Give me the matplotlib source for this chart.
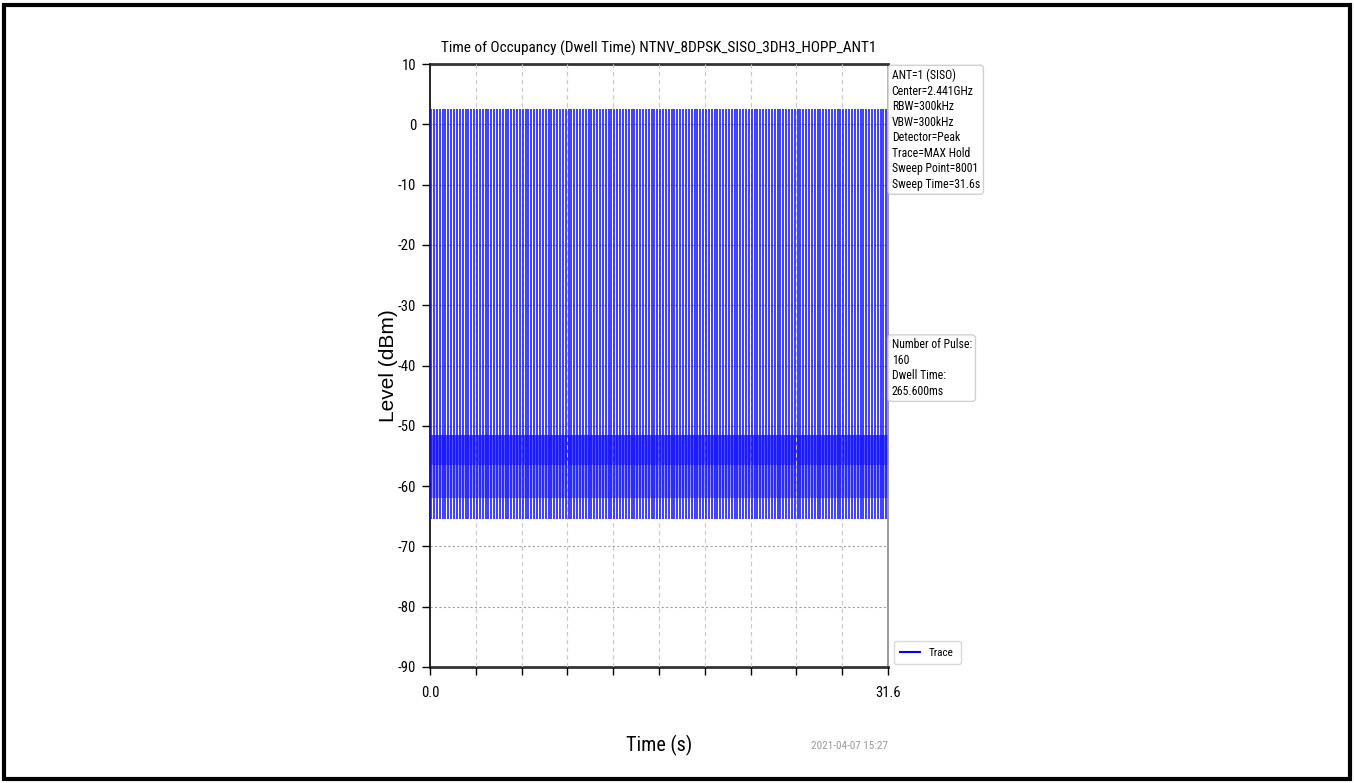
import numpy as np
import matplotlib
matplotlib.use("Agg")
import matplotlib.pyplot as plt
from matplotlib.patches import Rectangle
from matplotlib import font_manager as fm

# ---- data ----
title = "Time of Occupancy (Dwell Time) NTNV_8DPSK_SISO_3DH3_HOPP_ANT1"
sweep_time = 31.6          # s
n_pulses = 160
pulse_first = 0.08         # s, first hop
pulse_period = 0.1975      # s, spacing of hops
pulse_peak = 2.5           # dBm
noise_top = -51.5          # dBm
noise_mid_top = -56.5
noise_mid_bottom = -62.0
noise_bottom = -65.5
y_ticks = [10, 0, -10, -20, -30, -40, -50, -60, -70, -80, -90]
x_tick_count = 11
x_tick_labels = ["0.0", "", "", "", "", "", "", "", "", "", "31.6"]
info_lines = ["ANT=1 (SISO)", "Center=2.441GHz", "RBW=300kHz", "VBW=300kHz",
              "Detector=Peak", "Trace=MAX Hold", "Sweep Point=8001", "Sweep Time=31.6s"]
result_lines = ["Number of Pulse:", "160", "Dwell Time:", "265.600ms"]
timestamp = "2021-04-07 15:27"

pulse_times = pulse_first + pulse_period * np.arange(n_pulses)

installed = {f.name for f in fm.fontManager.ttflist}
narrow_pref = [n for n in ["Liberation Sans Narrow", "Arial Narrow", "Roboto Condensed",
                           "Open Sans Condensed", "Liberation Sans"] if n in installed]
narrow = narrow_pref[:1] + ["DejaVu Sans"]
is_narrow = narrow[0] != "Liberation Sans"
k = 1.0 if is_narrow else 0.85
plt.rcParams["font.family"] = narrow
plt.rcParams["axes.unicode_minus"] = False

W, H = 1354, 783
fig = plt.figure(figsize=(W / 100, H / 100), dpi=100)
fig.patches.append(Rectangle((4 / W, 4 / H), (W - 8) / W, (H - 9) / H,
                             transform=fig.transFigure, fill=False,
                             edgecolor="black", linewidth=3))

ax = fig.add_axes([430 / W, 1 - 667 / H, 458 / W, 603 / H])

# noise floor band
ax.fill_between([0, sweep_time], noise_mid_bottom, noise_top, color="#2a2af5", alpha=0.85, lw=0, zorder=2)
ax.fill_between([0, sweep_time], noise_mid_bottom, noise_mid_top, color="#8f8ff5", lw=0, zorder=2.1)
# pulses
ax.vlines(pulse_times, noise_bottom, pulse_peak, color="#1010ff", lw=1.25, alpha=0.9, zorder=3)
ax.plot([], [], color="blue", lw=1.5, label="Trace")

ax.set_xlim(0, sweep_time)
ax.set_ylim(-90, 10)
ax.set_yticks(y_ticks)
ax.set_xticks(np.linspace(0, sweep_time, x_tick_count))
ax.set_xticklabels(x_tick_labels)
ax.tick_params(axis="both", direction="out", length=6, width=1, labelsize=10.5 * k, color="black")
ax.tick_params(axis="x", pad=8)
ax.tick_params(axis="y", pad=4)

ax.xaxis.grid(True, linestyle=(0, (4, 3)), color="#c8c8c8", lw=0.8, zorder=4)
ax.yaxis.grid(True, linestyle=(0, (2, 2)), color="#a0a0a0", lw=0.8, zorder=4)
ax.set_axisbelow(False)
xg = ax.get_xgridlines()
xg[0].set_visible(False)
xg[-1].set_visible(False)
yg = ax.get_ygridlines()
yg[0].set_visible(False)
yg[-1].set_visible(False)

for s in ["top", "bottom"]:
    ax.spines[s].set_linewidth(2)
    ax.spines[s].set_color("#333333")
ax.spines["left"].set_linewidth(1.2)
ax.spines["left"].set_color("black")
ax.spines["right"].set_linewidth(1.2)
ax.spines["right"].set_color("#888888")

ax.set_title(title, fontsize=11 * k, pad=8)
ax.set_xlabel("Time (s)", fontsize=14.5 * k)
ax.xaxis.set_label_coords(0.5, -(735 - 667) / 603)
ax.set_ylabel("Level (dBm)", fontsize=15, family=["Liberation Sans", "DejaVu Sans"])
ax.yaxis.set_label_coords(-(430 - 398) / 458, 0.5)

box = dict(boxstyle="round,pad=0.3", facecolor="white", edgecolor="#d0d0d0", lw=1)
ax.text(1.008, 0.992, "\n".join(info_lines), transform=ax.transAxes, fontsize=8.5 * k,
        va="top", ha="left", linespacing=1.25, bbox=box)
ax.text(1.008, 0.545, "\n".join(result_lines), transform=ax.transAxes, fontsize=8.5 * k,
        va="top", ha="left", linespacing=1.25, bbox=box)

leg = ax.legend(loc="lower left", bbox_to_anchor=(1.0, -0.005), fontsize=8 * k,
                handlelength=1.8, frameon=True, borderpad=0.6)
leg.get_frame().set_edgecolor("#d0d0d0")

fig.text(888 / W, 1 - 746 / H, timestamp, ha="right", va="center", fontsize=8 * k, color="#999999")

fig.savefig("out.png", dpi=100)
